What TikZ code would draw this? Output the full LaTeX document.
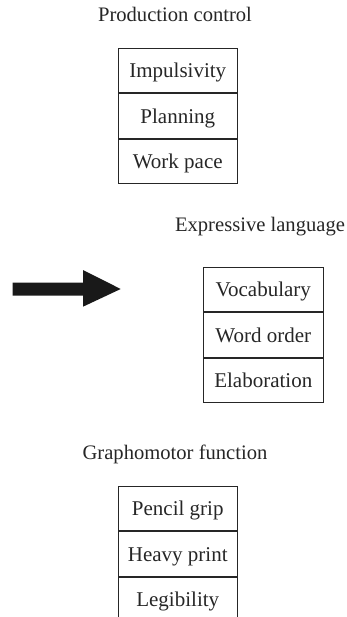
\documentclass[tikz,border=0pt]{standalone}
\usepackage{fontspec}
\setmainfont{Liberation Serif}
\begin{document}
\begin{tikzpicture}[x=1pt,y=-1pt,
  cell/.style={draw=black!85, line width=1pt, minimum width=119.5pt, minimum height=44.3pt,
    inner sep=0pt, text height=14.3pt, text depth=0pt, anchor=north west,
    font=\fontsize{21}{24}\selectfont, text=black!85},
  heading/.style={anchor=base, inner sep=0pt, font=\fontsize{20.6}{24}\selectfont, text=black!85}]
\useasboundingbox (0,0) rectangle (347,617);
\clip (0,0) rectangle (347,617);
% Production control
\node[heading] (t1) at (175,21.7) {Production control};
\node[cell] (a1) at (117.5,48) {Impulsivity};
\node[cell] (a2) at (a1.south west) {Planning};
\node[cell] (a3) at (a2.south west) {Work pace};
% Expressive language
\node[heading] (t2) at (260,231.7) {Expressive language};
\node[cell] (b1) at (203,267) {Vocabulary};
\node[cell] (b2) at (b1.south west) {Word order};
\node[cell] (b3) at (b2.south west) {Elaboration};
% Graphomotor function
\node[heading] (t3) at (175,459.3) {Graphomotor function};
\node[cell] (c1) at (117.5,486) {Pencil grip};
\node[cell] (c2) at (c1.south west) {Heavy print};
\node[cell] (c3) at (c2.south west) {Legibility};
% block arrow
\fill[black!90] (12.7,282.7) -- (83,282.7) -- (83,270) -- (120.7,289) -- (83,306.7)
  -- (83,295.7) -- (12.7,295.7) -- cycle;
\end{tikzpicture}
\end{document}
